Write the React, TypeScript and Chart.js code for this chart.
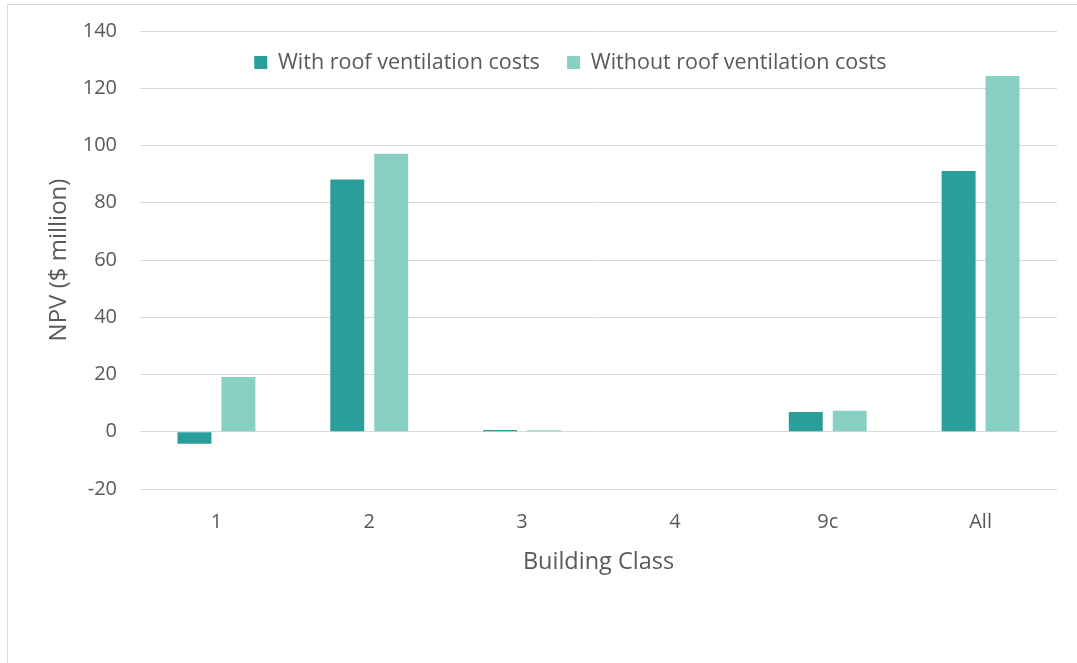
import React, { useEffect, useRef } from 'react';
import { Chart, registerables } from 'chart.js';

Chart.register(...registerables);

const categories = ['1', '2', '3', '4', '9c', 'All'];
const withRoofVentilation = [-4.2, 88.1, 0.6, 0, 6.9, 91.1];
const withoutRoofVentilation = [19.1, 97.1, 0.5, 0, 7.3, 124.3];
const seriesLabels = ['With roof ventilation costs', 'Without roof ventilation costs'];
const yMin = -20;
const yMax = 140;
const yStep = 20;

const TEXT = '#595959';
const GRID = '#D9D9D9';
const FONT = "'Open Sans', 'Noto Sans', sans-serif";

const legendOverlay = {
  id: 'legendOverlay',
  afterInit(chart: any) {
    const legend = chart.legend;
    if (!legend) return;
    const origFit = legend.fit;
    legend.fit = function () {
      origFit.call(this);
      this.height = 0;
    };
  },
  beforeDraw(chart: any) {
    const legend = chart.legend;
    if (!legend) return;
    legend.left = 227;
    legend.right = 1077;
    legend.top = 24.5;
    legend.bottom = 100;
  },
};

export default function App() {
  const canvasRef = useRef<HTMLCanvasElement>(null);

  useEffect(() => {
    if (!canvasRef.current) return;
    const chart = new Chart(canvasRef.current, {
      type: 'bar',
      data: {
        labels: categories,
        datasets: [
          {
            label: seriesLabels[0],
            data: withRoofVentilation,
            backgroundColor: '#2A9E9A',
            borderWidth: 0,
            categoryPercentage: 0.575,
            barPercentage: 0.773,
          },
          {
            label: seriesLabels[1],
            data: withoutRoofVentilation,
            backgroundColor: '#88D0C3',
            borderWidth: 0,
            categoryPercentage: 0.575,
            barPercentage: 0.773,
          },
        ],
      },
      options: {
        responsive: false,
        maintainAspectRatio: false,
        animation: false,
        layout: { padding: { left: 0, right: 20, top: 31, bottom: 86.6 } },
        plugins: {
          legend: {
            display: true,
            position: 'top',
            align: 'start',
            labels: {
              boxWidth: 13,
              boxHeight: 13,
              padding: 27.25,
              color: TEXT,
              font: { family: FONT, size: 21.5 },
            },
          },
          tooltip: { enabled: false },
          title: { display: false },
        },
        scales: {
          x: {
            grid: { display: false, drawTicks: false },
            border: { display: false },
            ticks: { color: TEXT, font: { family: FONT, size: 20 }, padding: 21 },
            title: {
              display: true,
              text: 'Building Class',
              color: TEXT,
              font: { family: FONT, size: 23.5 },
              padding: { top: 0, bottom: 0 },
            },
            afterFit(scale: any) {
              scale.height = 87.4;
            },
          },
          y: {
            min: yMin,
            max: yMax,
            grid: { color: GRID, lineWidth: 1, drawTicks: false },
            border: { display: false },
            ticks: { stepSize: yStep, color: TEXT, font: { family: FONT, size: 20 }, padding: 23 },
            title: {
              display: true,
              text: 'NPV ($ million)',
              color: TEXT,
              font: { family: FONT, size: 24 },
              padding: { top: 44.4, bottom: 0 },
            },
            afterFit(scale: any) {
              scale.width = 140;
              scale.paddingTop = 10;
              scale.paddingBottom = 10;
            },
          },
        },
      },
      plugins: [legendOverlay],
    });
    return () => chart.destroy();
  }, []);

  return (
    <div style={{ position: 'absolute', left: 0, top: 0, width: 1077, height: 663, background: '#fff', overflow: 'hidden' }}>
      <div
        style={{
          position: 'absolute',
          left: 7,
          top: 4,
          width: 1200,
          height: 800,
          borderLeft: '1px solid #D9D9D9',
          borderTop: '1px solid #D9D9D9',
        }}
      />
      <canvas
        ref={canvasRef}
        width={1077}
        height={663}
        style={{ position: 'absolute', left: 0, top: 0, width: 1077, height: 663 }}
      />
    </div>
  );
}
